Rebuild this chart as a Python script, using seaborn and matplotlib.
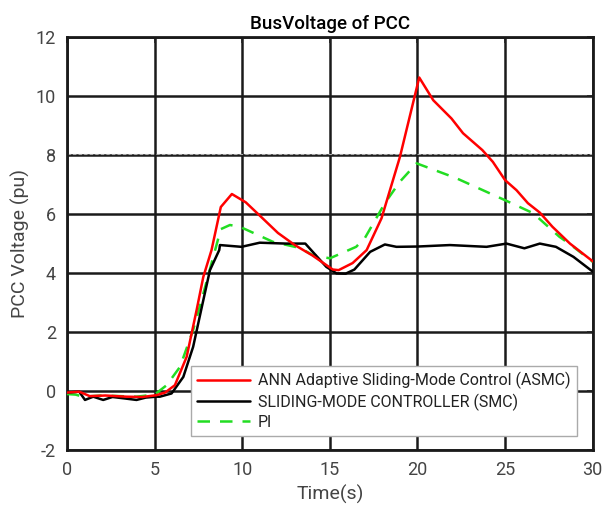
import matplotlib
matplotlib.use("Agg")
import matplotlib.pyplot as plt
import seaborn as sns
import pandas as pd

# ---- data ----
asmc_t = [0, 0.7, 1.3, 2.2, 3.4, 4.3, 5.1, 5.6, 6.16, 6.83, 7.4, 7.78, 8.25, 8.78, 9.41,
          10.2, 11.0, 12.04, 13.0, 14.0, 15.17, 15.5, 16.3, 17.1, 17.95, 19.0, 20.1,
          20.9, 21.94, 22.6, 23.7, 24.3, 25.0, 25.65, 26.3, 26.98, 27.7, 28.7, 30.0]
asmc_v = [-0.05, -0.02, -0.17, -0.15, -0.19, -0.2, -0.14, -0.05, 0.2, 1.16, 2.75, 3.87, 4.78, 6.24, 6.68,
          6.4, 5.95, 5.36, 4.95, 4.6, 4.12, 4.1, 4.34, 4.78, 5.86, 7.94, 10.63,
          9.86, 9.24, 8.74, 8.17, 7.77, 7.15, 6.81, 6.37, 6.05, 5.57, 5.0, 4.4]

smc_t = [0, 0.7, 1.03, 1.5, 2.07, 2.6, 3.3, 3.97, 4.5, 5.1, 5.3, 5.97, 6.64, 7.2, 7.78, 8.16,
         8.69, 8.73, 9.96, 11.0, 12.5, 13.6, 14.8, 15.38, 15.9, 16.4, 17.3, 18.14, 18.8,
         20.0, 21.85, 23.94, 25.08, 26.1, 26.98, 27.9, 28.9, 30.0]
smc_v = [-0.05, -0.02, -0.3, -0.19, -0.3, -0.2, -0.25, -0.3, -0.22, -0.19, -0.19, -0.08, 0.48, 1.5, 3.08, 4.1,
         4.78, 4.95, 4.89, 5.03, 5.0, 5.0, 4.21, 3.99, 3.98, 4.12, 4.72, 4.97, 4.89,
         4.9, 4.95, 4.89, 5.0, 4.84, 5.0, 4.89, 4.55, 4.05]

pi_t = [0, 0.5, 0.9, 2.0, 3.0, 3.97, 5.0, 5.69, 6.45, 7.2, 7.68, 8.35, 8.78, 9.3, 9.87,
        11.75, 13.3, 14.03, 15.0, 16.5, 17.0, 18.14, 19.0, 19.95, 22.2, 25.0, 26.6,
        28.1, 28.7, 30.0]
pi_v = [-0.1, -0.12, -0.19, -0.15, -0.17, -0.19, -0.12, 0.2, 0.82, 2.07, 3.08, 4.55, 5.49, 5.63, 5.57,
        5.06, 4.85, 4.61, 4.5, 4.89, 5.19, 6.37, 7.1, 7.72, 7.22, 6.47, 6.03,
        5.23, 4.98, 4.38]

labels = ["ANN Adaptive Sliding-Mode Control (ASMC)",
          "SLIDING-MODE CONTROLLER (SMC)",
          "PI"]
xticks = [0, 5, 10, 15, 20, 25, 30]
yticks = [-2, 0, 2, 4, 6, 8, 10, 12]

sns.set_theme(style="white")
plt.rcParams['font.family'] = ['Roboto', 'DejaVu Sans']
plt.rcParams['axes.unicode_minus'] = False

fig = plt.figure(figsize=(6.03, 5.08), dpi=100)
ax = fig.add_axes([0.111, 0.114, 0.872, 0.813])

sns.lineplot(x=asmc_t, y=asmc_v, ax=ax, color="#ff0000", lw=1.8, label=labels[0], zorder=5)
sns.lineplot(x=smc_t, y=smc_v, ax=ax, color="black", lw=1.8, label=labels[1], zorder=4)
sns.lineplot(x=pi_t, y=pi_v, ax=ax, color="#22dd22", lw=1.8, label=labels[2], zorder=3)
ax.lines[2].set_dashes([5, 4])

ax.set_xlim(0, 30)
ax.set_ylim(-2, 12)
ax.set_xticks(xticks)
ax.set_yticks(yticks)
ax.grid(True, color="#1a1a1a", lw=1.8, zorder=1)
ax.set_axisbelow(True)
ax.axhline(8.05, color="#aaaaaa", lw=0.8, ls=(0, (3, 2)), zorder=2)

for s in ax.spines.values():
    s.set_color("#1a1a1a")
    s.set_linewidth(2.0)

ax.tick_params(direction="in", length=4, width=1.2, colors="#222222",
               labelcolor="#444444", labelsize=13, top=True, right=True, pad=8)

ax.set_title("BusVoltage of PCC", fontsize=13.5, color="black", pad=6, fontweight="medium")
ax.set_xlabel("Time(s)", fontsize=14, color="#444444", labelpad=4)
ax.set_ylabel("PCC Voltage (pu)", fontsize=14, color="#444444", labelpad=4)

leg = ax.legend(loc="lower right", bbox_to_anchor=(0.985, 0.015), fontsize=11.5,
                frameon=True, fancybox=False, framealpha=1, edgecolor="#aaaaaa",
                borderpad=0.4, labelspacing=0.25, handlelength=3.3, handletextpad=0.5)
leg.get_frame().set_linewidth(1.0)
for t in leg.get_texts():
    t.set_color("#222222")

fig.savefig("out.png", dpi=100)
